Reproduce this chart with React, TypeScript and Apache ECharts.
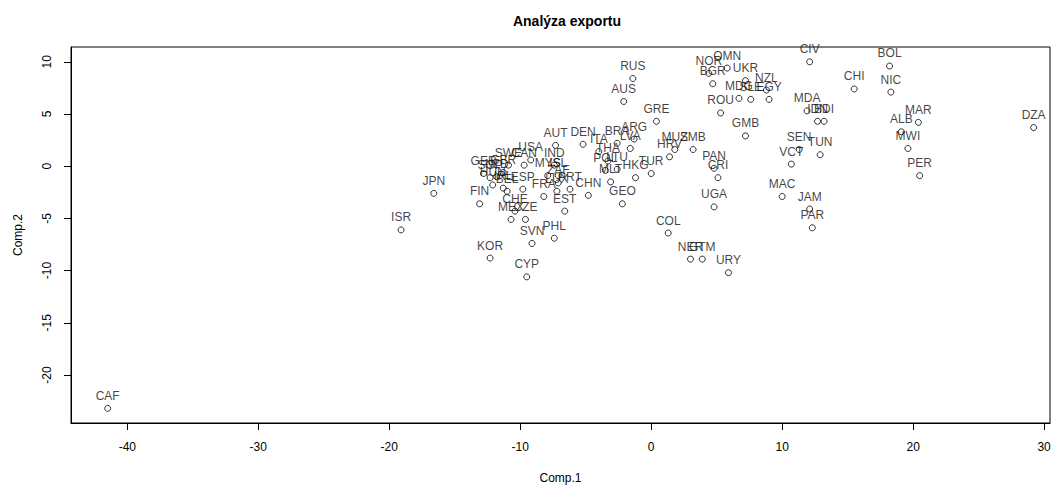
import React, { useEffect, useRef } from "react";
import * as echarts from "echarts";

// Country codes with their first two principal component scores
const countries = [
  "CAF", "ISR", "JPN", "KOR", "CYP", "SVN", "PHL", "FIN", "CHE", "MEX",
  "CZE", "EST", "FRA", "LUX", "PRT", "ZAF", "CHN", "GEO", "MLT", "HKG",
  "TUR", "THA", "POL", "LTU", "ITA", "DEN", "AUT", "BRA", "LVA", "ARG",
  "USA", "IND", "MYS", "ISL", "SWE", "CAN", "GER", "GBR", "SGP", "NLD",
  "HUN", "IRL", "BEL", "ESP", "GRE", "RUS", "AUS", "HRV", "MUS", "ZMB",
  "PAN", "CRI", "UGA", "COL", "NER", "GTM", "URY", "NOR", "OMN", "BGR",
  "UKR", "MDG", "SLE", "NZL", "EGY", "ROU", "GMB", "CIV", "MDA", "IDN",
  "BDI", "CHI", "BOL", "NIC", "MAR", "ALB", "MWI", "PER", "DZA", "SEN",
  "TUN", "VCT", "MAC", "JAM", "PAR",
];

const comp1 = [
  -41.5, -19.1, -16.6, -12.3, -9.5, -9.1, -7.4, -13.1, -10.4, -10.7,
  -9.6, -6.6, -8.2, -7.2, -6.2, -7.1, -4.8, -2.2, -3.1, -1.2,
  0.0, -3.3, -3.5, -2.6, -4.0, -5.2, -7.3, -2.6, -1.6, -1.3,
  -9.2, -7.4, -7.9, -7.1, -10.9, -9.7, -12.8, -11.3, -12.3, -11.8,
  -12.1, -11.3, -11.0, -9.8, 0.4, -1.4, -2.1, 1.4, 1.8, 3.2,
  4.8, 5.1, 4.8, 1.3, 3.0, 3.9, 5.9, 4.4, 5.8, 4.7,
  7.2, 6.7, 7.6, 8.8, 9.0, 5.3, 7.2, 12.1, 11.9, 12.7,
  13.2, 15.5, 18.2, 18.3, 20.4, 19.1, 19.6, 20.5, 29.2, 11.3,
  12.9, 10.7, 10.0, 12.1, 12.3,
];

const comp2 = [
  -23.2, -6.1, -2.6, -8.8, -10.6, -7.4, -6.9, -3.6, -4.3, -5.1,
  -5.1, -4.3, -2.9, -2.4, -2.2, -1.6, -2.8, -3.6, -1.5, -1.1,
  -0.7, 0.5, -0.4, -0.3, 1.4, 2.1, 2.0, 2.2, 1.7, 2.6,
  0.6, 0.1, -0.9, -0.9, 0.1, 0.1, -0.7, -0.6, -1.1, -1.0,
  -1.8, -2.1, -2.4, -2.2, 4.3, 8.4, 6.2, 0.9, 1.6, 1.6,
  -0.2, -1.1, -3.9, -6.4, -8.9, -8.9, -10.2, 8.9, 9.4, 7.9,
  8.2, 6.5, 6.4, 7.3, 6.4, 5.1, 2.9, 10.0, 5.3, 4.3,
  4.3, 7.4, 9.6, 7.1, 4.2, 3.3, 1.7, -0.9, 3.7, 1.6,
  1.1, 0.2, -2.9, -4.1, -5.9,
];

const xTicks = [-40, -30, -20, -10, 0, 10, 20, 30];
const yTicks = [-20, -15, -10, -5, 0, 5, 10];

const FONT = "Liberation Sans, Arial, sans-serif";

export default function App() {
  const ref = useRef<HTMLDivElement>(null);

  useEffect(() => {
    if (!ref.current) return;
    const chart = echarts.init(ref.current, undefined, { renderer: "svg" });

    const points = countries.map((name, i) => ({
      name,
      value: [comp1[i], comp2[i]],
    }));

    chart.setOption({
      animation: false,
      backgroundColor: "#ffffff",
      title: {
        text: "Analýza exportu",
        left: 562,
        top: 9,
        textAlign: "center",
        textStyle: {
          fontFamily: FONT,
          fontSize: 14,
          fontWeight: "bold",
          color: "#000",
        },
      },
      grid: {
        left: 71,
        top: 47,
        width: 979,
        height: 380,
        show: true,
        borderColor: "#000",
        borderWidth: 1,
        backgroundColor: "transparent",
      },
      xAxis: {
        type: "value",
        min: -44.3,
        max: 30.45,
        name: "Comp.1",
        nameLocation: "middle",
        nameGap: 49,
        nameTextStyle: { fontFamily: FONT, fontSize: 12, color: "#000" },
        splitLine: { show: false },
        axisLine: { show: true, onZero: false, lineStyle: { color: "#000", width: 1 } },
        axisTick: {
          show: true,
          length: 7,
          customValues: xTicks,
          lineStyle: { color: "#000", width: 1 },
        },
        axisLabel: {
          customValues: xTicks,
          margin: 18,
          fontFamily: FONT,
          fontSize: 12,
          color: "#000",
        },
      },
      yAxis: {
        type: "value",
        min: -24.6,
        max: 11.42,
        name: "Comp.2",
        nameLocation: "middle",
        nameGap: 47,
        nameRotate: 90,
        nameTextStyle: { fontFamily: FONT, fontSize: 12, color: "#000" },
        splitLine: { show: false },
        axisLine: { show: true, onZero: false, lineStyle: { color: "#000", width: 1 } },
        axisTick: {
          show: true,
          length: 7,
          customValues: yTicks,
          lineStyle: { color: "#000", width: 1 },
        },
        axisLabel: {
          customValues: yTicks,
          rotate: 90,
          margin: 18,
          fontFamily: FONT,
          fontSize: 12,
          color: "#000",
        },
      },
      series: [
        {
          type: "scatter",
          data: points,
          symbol: "circle",
          symbolSize: 6,
          itemStyle: {
            color: "rgba(0,0,0,0)",
            borderColor: "#000",
            borderWidth: 1,
          },
          label: {
            show: true,
            position: "top",
            distance: 3,
            formatter: "{b}",
            fontFamily: FONT,
            fontSize: 12,
            color: "#111",
          },
          emphasis: { disabled: true },
        },
      ],
    });

    return () => chart.dispose();
  }, []);

  return (
    <div
      ref={ref}
      style={{ position: "fixed", left: 0, top: 0, width: 1058, height: 489 }}
    />
  );
}
